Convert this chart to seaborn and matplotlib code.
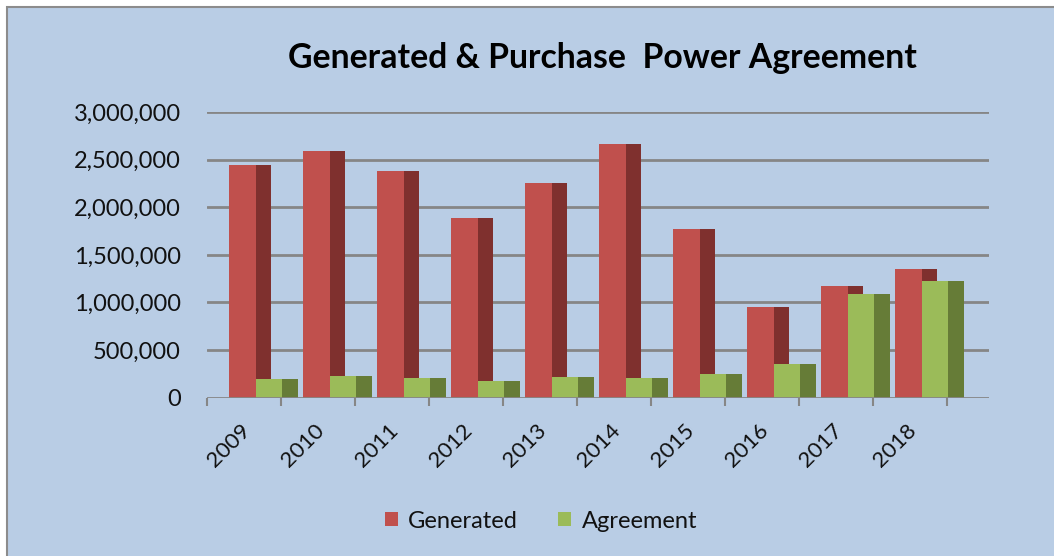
import numpy as np
import pandas as pd
import matplotlib
matplotlib.use("Agg")
import matplotlib.pyplot as plt
from matplotlib.patches import Rectangle
from matplotlib.ticker import FuncFormatter
import seaborn as sns

# values
years = ["2009", "2010", "2011", "2012", "2013", "2014", "2015", "2016", "2017", "2018"]
generated = [2440000, 2590000, 2380000, 1885000, 2250000, 2660000, 1768000, 952000, 1176000, 1355000]
agreement = [193000, 228000, 210000, 178000, 214000, 210000, 249000, 354000, 1086000, 1229000]
series = ["Generated", "Agreement"]
front_colors = ["#C0504D", "#9BBB59"]
side_colors = ["#7F302E", "#667C37"]

bg = "#B9CDE5"
grid_col = "#868686"

df = pd.DataFrame({
    "Year": years * 2,
    "Value": generated + agreement,
    "Series": ["Generated"] * len(years) + ["Agreement"] * len(years),
})

sns.set_theme(style="white")
plt.rcParams["font.family"] = ["Lato", "DejaVu Sans"]

fig = plt.figure(figsize=(10.54, 5.56), dpi=100, facecolor="white")
# chart area frame
fig.patches.append(Rectangle((7 / 1054, -0.05), 1.1, 1 - 7 / 556 + 0.05,
                             transform=fig.transFigure, facecolor=bg,
                             edgecolor="#8C8C8C", linewidth=1.5, zorder=-10))

ax = fig.add_axes([207 / 1054, 1 - 397.7 / 556, (989 - 207) / 1054, (397.7 - 112) / 556])
ax.set_facecolor("none")

sns.barplot(data=df, x="Year", y="Value", hue="Series", hue_order=series,
            palette=front_colors, width=0.72, gap=0, saturation=1,
            linewidth=0, ax=ax, legend=False, zorder=3)

# darker side faces to mimic the 3D look
n = len(years)
for k, p in enumerate(list(ax.patches)):
    col = side_colors[k // n]
    ax.bar(p.get_x() + p.get_width(), p.get_height(), width=0.21, align="edge",
           color=col, linewidth=0, zorder=2)

ax.set_ylim(0, 3000000)
ax.set_yticks(np.arange(0, 3000001, 500000))
ax.yaxis.set_major_formatter(FuncFormatter(lambda v, _: f"{int(v):,}"))
ax.set_xlim(-0.66, 9.91)

for y in np.arange(500000, 3000001, 500000):
    ax.axhline(y, color=grid_col, linewidth=2, zorder=1)
ax.axhline(0, color=grid_col, linewidth=2, zorder=4)

for s in ax.spines.values():
    s.set_visible(False)

ax.set_xticks(np.arange(n) - 0.12)
ax.set_xticklabels(years, rotation=45, ha="right", va="center", rotation_mode="anchor",
                   fontsize=16, color="#111111")
ax.set_xticks(np.arange(n + 1) - 0.66, minor=True)
ax.tick_params(axis="x", which="major", bottom=True, length=0, pad=21)
ax.tick_params(axis="x", which="minor", bottom=True, length=6, width=1.5,
               color=grid_col, direction="out")
ax.tick_params(axis="y", length=0, pad=19, labelsize=17, labelcolor="#111111")
ax.set_xlabel("")
ax.set_ylabel("")

fig.text(602 / 1054, 1 - 58 / 556, "Generated & Purchase  Power Agreement",
         ha="center", va="center", fontsize=24.3, fontweight="bold", color="black")

handles = [Rectangle((0, 0), 1, 1, facecolor=c, edgecolor="none") for c in front_colors]
fig.legend(handles, series, loc="center", bbox_to_anchor=(541 / 1054, 1 - 521 / 556),
           ncol=2, frameon=False, fontsize=17, handlelength=0.55, handleheight=0.55,
           handletextpad=0.45, columnspacing=1.7, labelcolor="#111111")

fig.savefig("out.png", dpi=100, facecolor=fig.get_facecolor())
